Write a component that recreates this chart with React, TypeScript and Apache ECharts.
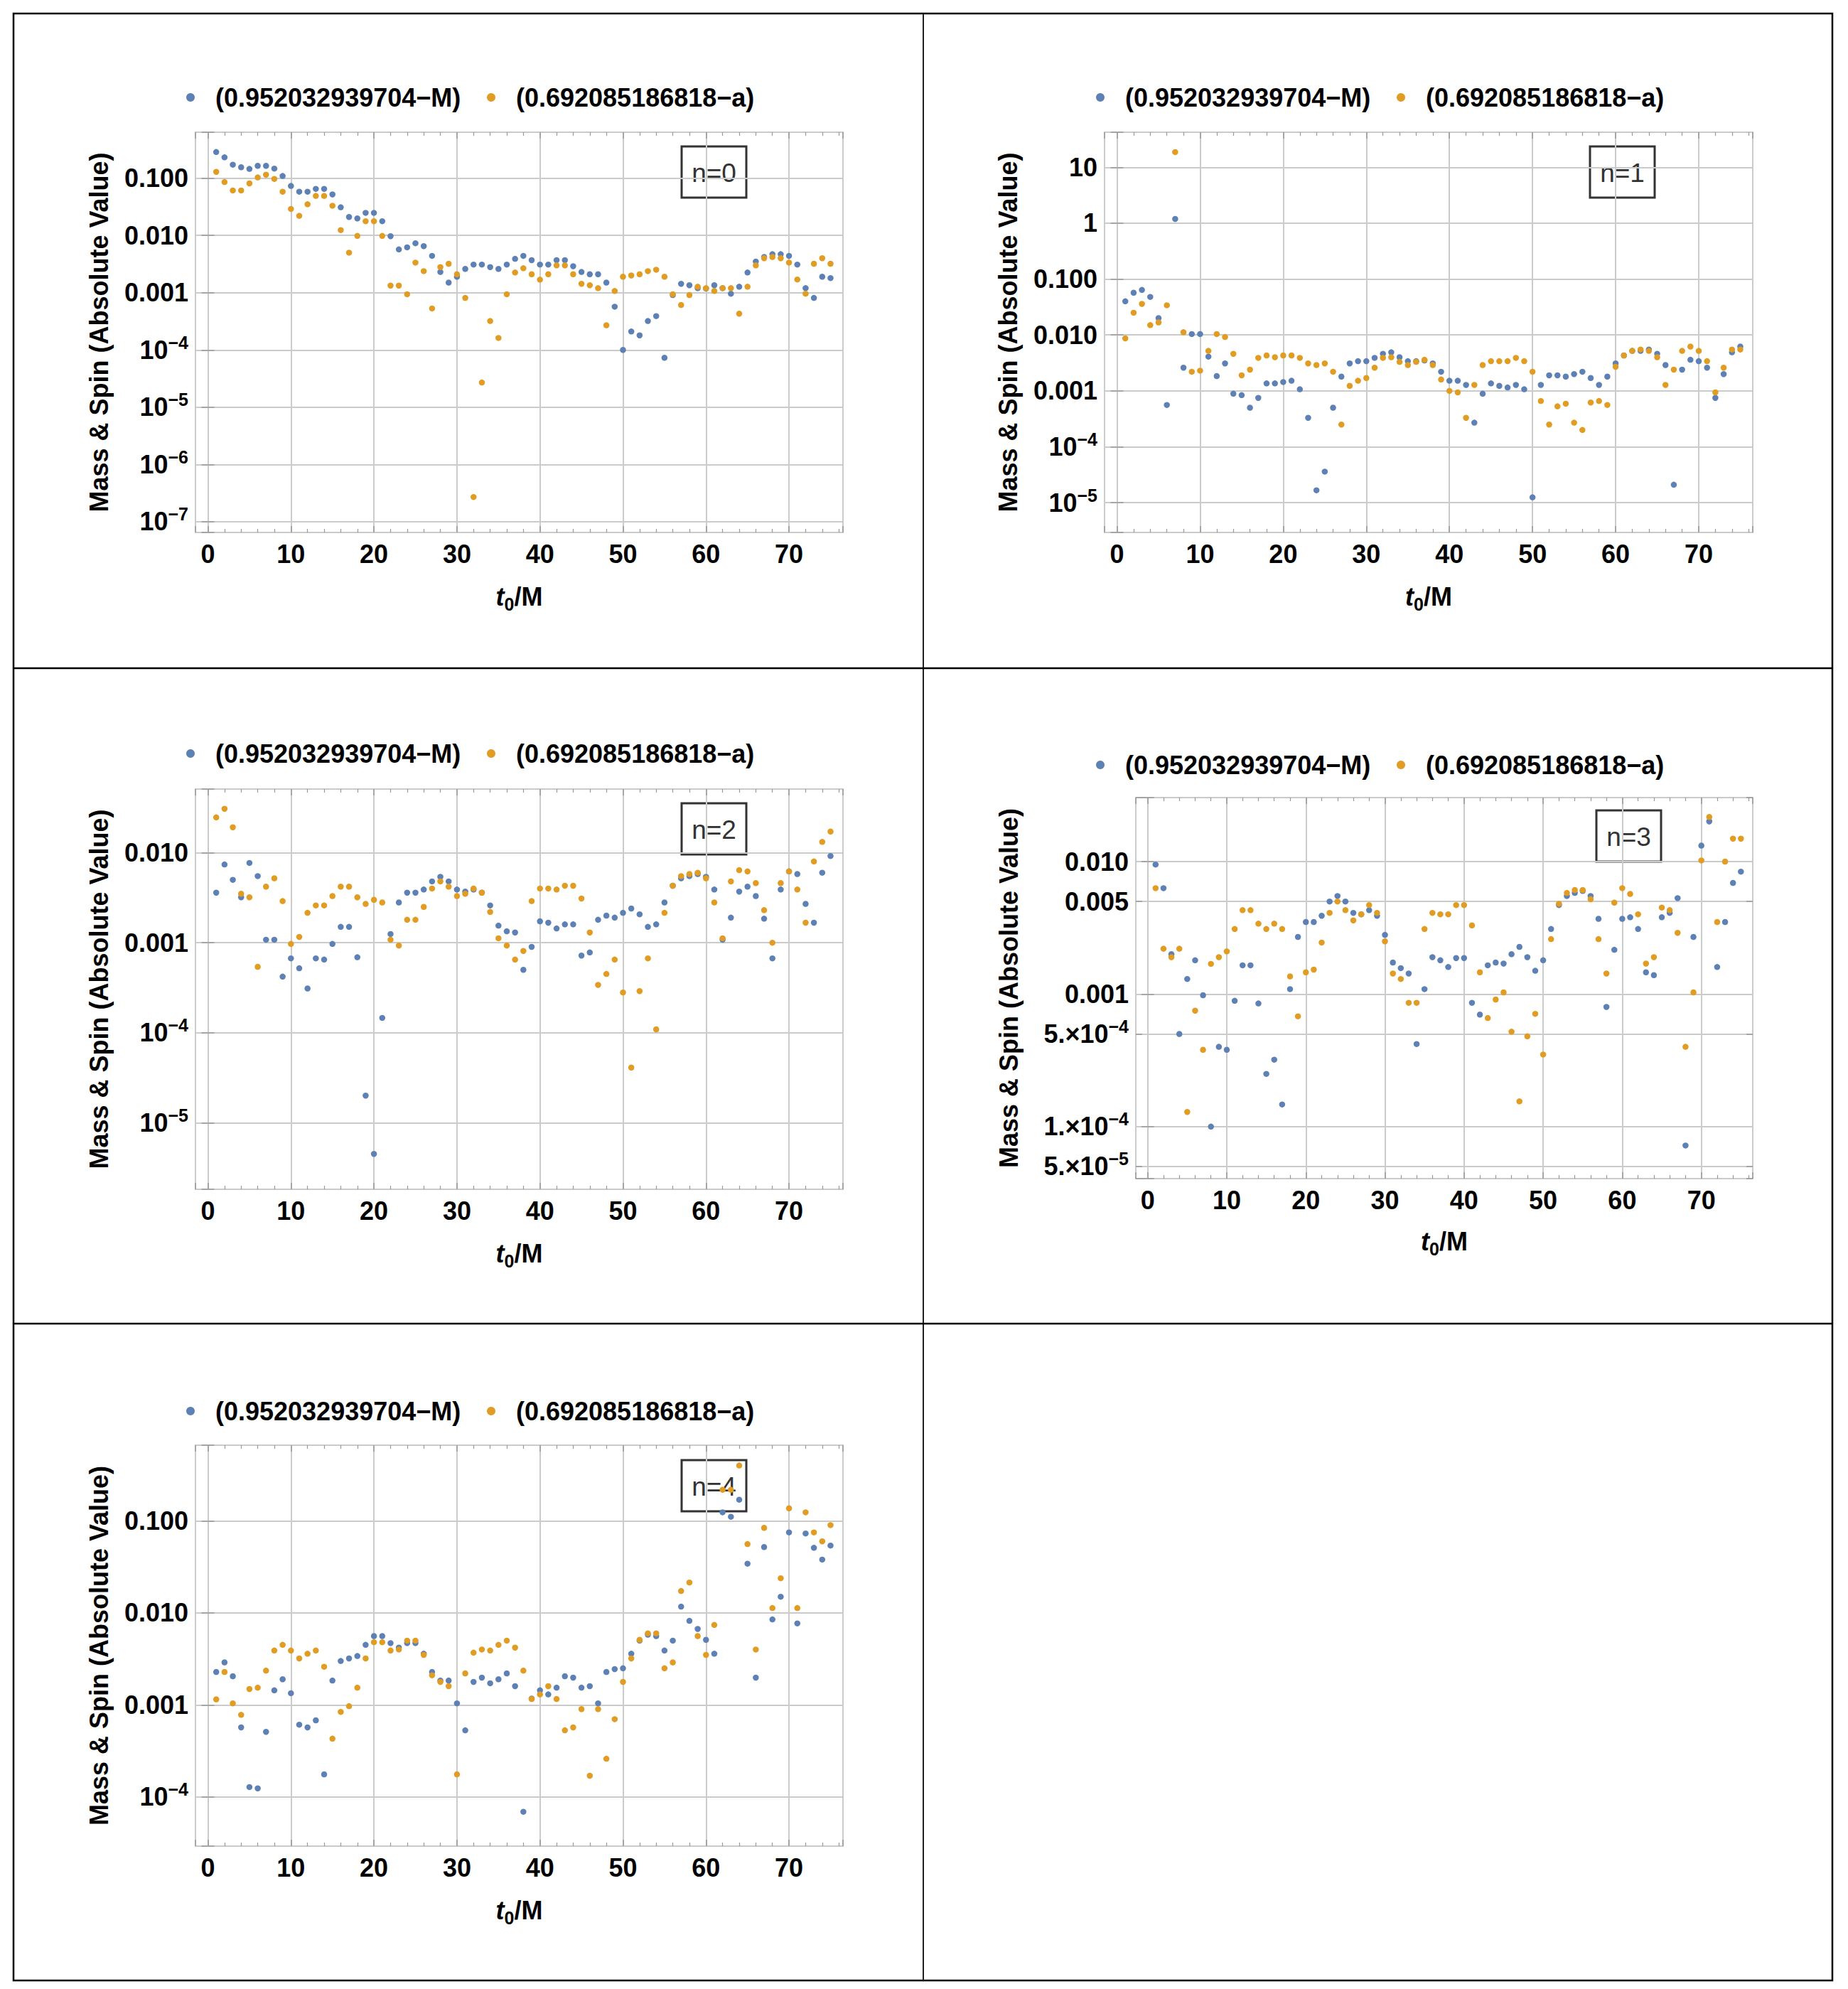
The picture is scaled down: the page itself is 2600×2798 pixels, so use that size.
import React, { useEffect, useRef } from "react";
import * as echarts from "echarts";

// start time t0/M of each fit
const t0 = [
  1, 2, 3, 4, 5, 6, 7, 8, 9, 10, 11, 12, 13, 14, 15, 16, 17, 18, 19, 20,
  21, 22, 23, 24, 25, 26, 27, 28, 29, 30, 31, 32, 33, 34, 35, 36, 37, 38, 39, 40,
  41, 42, 43, 44, 45, 46, 47, 48, 49, 50, 51, 52, 53, 54, 55, 56, 57, 58, 59, 60,
  61, 62, 63, 64, 65, 66, 67, 68, 69, 70, 71, 72, 73, 74, 75,
];

// |0.952032939704 - M| for n = 0..4
const massN0 = [
  0.286, 0.231, 0.172, 0.155, 0.145, 0.164, 0.164, 0.147, 0.109, 0.073,
  0.058, 0.058, 0.065, 0.065, 0.052, 0.031, 0.021, 0.0198, 0.0248, 0.0248,
  0.0177, 0.0097, 0.0057, 0.0062, 0.0073, 0.0065, 0.0044, 0.0023, 0.0015, 0.0019,
  0.0026, 0.0031, 0.0031, 0.0028, 0.0026, 0.0031, 0.0039, 0.0044, 0.0037, 0.0031,
  0.0031, 0.0037, 0.0037, 0.0029, 0.0023, 0.0021, 0.0021, 0.0015, 0.00057, 0.0001,
  0.00021, 0.00018, 0.00032, 0.00039, 0.000073, 0.00091, 0.00143, 0.00135, 0.0012, 0.00118,
  0.00135, 0.0012, 0.00096, 0.00127, 0.00225, 0.0035, 0.0042, 0.0047, 0.0047, 0.0044,
  0.0031, 0.0012, 0.00081, 0.0019, 0.0018,
];
const massN1 = [
  0.04, 0.057, 0.064, 0.048, 0.02, 0.00056, 1.19, 0.0026, 0.0104, 0.0104,
  0.0041, 0.00184, 0.0031, 0.00089, 0.00084, 0.0005, 0.00075, 0.00136, 0.00136, 0.00144,
  0.00152, 0.00107, 0.00033, 0.0000167, 0.000036, 0.0005, 0.0018, 0.0031, 0.0034, 0.0034,
  0.0039, 0.0046, 0.0049, 0.004, 0.0034, 0.0034, 0.0035, 0.0031, 0.0022, 0.00152,
  0.00152, 0.00128, 0.00027, 0.00089, 0.00136, 0.00123, 0.00115, 0.00128, 0.00107, 0.0000125,
  0.00128, 0.0019, 0.0019, 0.0018, 0.002, 0.0022, 0.0017, 0.00128, 0.0018, 0.0031,
  0.0043, 0.0052, 0.0052, 0.0055, 0.0046, 0.0029, 0.000021, 0.0024, 0.0036, 0.0034,
  0.0026, 0.00075, 0.002, 0.0049, 0.0062,
];
const massN2 = [
  0.0036, 0.0074, 0.005, 0.0032, 0.0077, 0.0055, 0.00108, 0.00108, 0.00042, 0.00067,
  0.00052, 0.00031, 0.00067, 0.00065, 0.00097, 0.0015, 0.0015, 0.00069, 0.00002, 0.0000045,
  0.000146, 0.00125, 0.0028, 0.0036, 0.0036, 0.0039, 0.0048, 0.0054, 0.0048, 0.0039,
  0.0037, 0.0039, 0.0036, 0.0026, 0.00155, 0.00134, 0.0013, 0.0005, 0.0009, 0.00173,
  0.00167, 0.00144, 0.0016, 0.0016, 0.00072, 0.00078, 0.0018, 0.002, 0.0019, 0.00215,
  0.0024, 0.00207, 0.0015, 0.0016, 0.0028, 0.0043, 0.0052, 0.0055, 0.0058, 0.0054,
  0.0039, 0.00108, 0.0019, 0.0037, 0.0042, 0.0033, 0.00185, 0.00067, 0.0039, 0.0062,
  0.0058, 0.0027, 0.00167, 0.006, 0.0092,
];
const massN3 = [
  0.0095, 0.0063, 0.002, 0.0005, 0.0013, 0.0018, 0.00098, 0.0001, 0.0004, 0.00038,
  0.00089, 0.00165, 0.00165, 0.00085, 0.00025, 0.00032, 0.000147, 0.00109, 0.0027, 0.0035,
  0.0035, 0.0039, 0.005, 0.0055, 0.005, 0.0041, 0.004, 0.0043, 0.0039, 0.0028,
  0.00173, 0.00157, 0.00143, 0.00042, 0.00109, 0.0019, 0.0018, 0.0016, 0.00187, 0.00187,
  0.00086, 0.0007, 0.00165, 0.00173, 0.0017, 0.002, 0.00227, 0.0019, 0.0015, 0.0018,
  0.0031, 0.0047, 0.0055, 0.0058, 0.006, 0.0055, 0.0037, 0.0008, 0.00216, 0.0037,
  0.0038, 0.0031, 0.00146, 0.00139, 0.0038, 0.0041, 0.0053, 0.000072, 0.0027, 0.0132,
  0.0201, 0.0016, 0.0035, 0.0069, 0.0084,
];
const massN4 = [
  0.00228, 0.0029, 0.00205, 0.00057, 0.000128, 0.000124, 0.00051, 0.00144, 0.0019, 0.00134,
  0.00061, 0.00057, 0.00068, 0.000176, 0.00184, 0.003, 0.0032, 0.0034, 0.0045, 0.0056,
  0.0056, 0.0047, 0.0042, 0.0047, 0.0047, 0.0036, 0.00228, 0.00184, 0.00184, 0.00104,
  0.00053, 0.00178, 0.00198, 0.00172, 0.0019, 0.0022, 0.0016, 0.000069, 0.00117, 0.00144,
  0.0013, 0.00154, 0.00205, 0.00198, 0.00154, 0.0016, 0.00104, 0.00228, 0.00245, 0.0025,
  0.0036, 0.005, 0.0058, 0.0056, 0.0039, 0.005, 0.0117, 0.0082, 0.0067, 0.0051,
  0.0036, 0.124, 0.111, 0.17, 0.0343, 0.00198, 0.052, 0.0085, 0.015, 0.075,
  0.0077, 0.073, 0.051, 0.038, 0.054,
];

// |0.692085186818 - a| for n = 0..4
const spinN0 = [
  0.129, 0.0855, 0.061, 0.061, 0.081, 0.103, 0.115, 0.097, 0.058, 0.029,
  0.022, 0.035, 0.049, 0.049, 0.033, 0.0124, 0.005, 0.0098, 0.0177, 0.0177,
  0.0098, 0.00133, 0.00133, 0.00094, 0.00335, 0.00238, 0.00053, 0.0028, 0.0032, 0.0021,
  0.00081, 0.00000027, 0.000027, 0.00032, 0.000162, 0.00094, 0.00225, 0.00267, 0.0021, 0.00169,
  0.0021, 0.003, 0.003, 0.0021, 0.00143, 0.00135, 0.0012, 0.00027, 0.00107, 0.0019,
  0.002, 0.0021, 0.00238, 0.00252, 0.0019, 0.00094, 0.00061, 0.00091, 0.00127, 0.0012,
  0.00107, 0.0012, 0.0012, 0.00043, 0.00127, 0.003, 0.004, 0.0042, 0.004, 0.00335,
  0.0017, 0.00096, 0.0032, 0.004, 0.0032,
];
const spinN1 = [
  0.0087, 0.025, 0.036, 0.015, 0.0168, 0.034, 18.7, 0.0112, 0.0022, 0.0023,
  0.0052, 0.0104, 0.0092, 0.0046, 0.0019, 0.0024, 0.0039, 0.0043, 0.004, 0.0043,
  0.0043, 0.0039, 0.0031, 0.0029, 0.0031, 0.0022, 0.00025, 0.00123, 0.00152, 0.0017,
  0.0026, 0.0039, 0.004, 0.0033, 0.0029, 0.0033, 0.0036, 0.0029, 0.0016, 0.001,
  0.00094, 0.00033, 0.00128, 0.0029, 0.0034, 0.0034, 0.0034, 0.0039, 0.0034, 0.0022,
  0.00066, 0.00025, 0.00053, 0.00059, 0.00027, 0.0002, 0.00062, 0.00066, 0.00056, 0.0027,
  0.0043, 0.0052, 0.0055, 0.0052, 0.004, 0.00128, 0.0024, 0.0052, 0.0062, 0.0052,
  0.0034, 0.00094, 0.0026, 0.0055, 0.0055,
];
const spinN2 = [
  0.0247, 0.0308, 0.0192, 0.0035, 0.0032, 0.00054, 0.0042, 0.0052, 0.0029, 0.00097,
  0.00116, 0.00215, 0.0026, 0.0026, 0.0033, 0.0042, 0.0042, 0.0032, 0.0027, 0.003,
  0.0028, 0.00108, 0.00093, 0.0018, 0.0018, 0.0025, 0.004, 0.0048, 0.0042, 0.0033,
  0.0035, 0.004, 0.0036, 0.0022, 0.00112, 0.00093, 0.00065, 0.00081, 0.0029, 0.004,
  0.004, 0.0039, 0.0043, 0.0043, 0.0031, 0.0013, 0.00034, 0.00045, 0.00065, 0.00028,
  0.000041, 0.00029, 0.00067, 0.000109, 0.00215, 0.0043, 0.0055, 0.0058, 0.006, 0.0052,
  0.0028, 0.00112, 0.0048, 0.0064, 0.0062, 0.0046, 0.0023, 0.001, 0.0046, 0.0062,
  0.0039, 0.00167, 0.008, 0.0132, 0.0172,
];
const spinN3 = [
  0.0063, 0.0022, 0.0019, 0.0022, 0.000129, 0.00075, 0.00038, 0.00169, 0.0019, 0.0021,
  0.0031, 0.0043, 0.0043, 0.0034, 0.0031, 0.0034, 0.0031, 0.00136, 0.00068, 0.00146,
  0.00153, 0.00245, 0.0041, 0.005, 0.0043, 0.0036, 0.004, 0.0047, 0.0041, 0.0025,
  0.00143, 0.0013, 0.00086, 0.00086, 0.0031, 0.0041, 0.004, 0.004, 0.0047, 0.0047,
  0.0033, 0.00146, 0.00066, 0.00091, 0.00103, 0.00052, 0.000155, 0.00048, 0.00071, 0.00035,
  0.0026, 0.0048, 0.0058, 0.0061, 0.0061, 0.0052, 0.0026, 0.00143, 0.0049, 0.0063,
  0.0057, 0.004, 0.0017, 0.0019, 0.0045, 0.0043, 0.0029, 0.0004, 0.00103, 0.0102,
  0.0217, 0.0035, 0.01, 0.0149, 0.0149,
];
const spinN4 = [
  0.00115, 0.00228, 0.00104, 0.00078, 0.00149, 0.00154, 0.00236, 0.0039, 0.0045, 0.0039,
  0.0032, 0.0036, 0.0039, 0.0026, 0.00043, 0.00084, 0.00097, 0.00154, 0.0032, 0.0048,
  0.0048, 0.0039, 0.004, 0.005, 0.005, 0.0035, 0.0021, 0.00178, 0.0016, 0.000176,
  0.0022, 0.0037, 0.004, 0.0039, 0.0045, 0.005, 0.0042, 0.00236, 0.00116, 0.0013,
  0.0016, 0.00116, 0.00053, 0.00057, 0.0009, 0.00017, 0.0009, 0.00026, 0.0007, 0.00178,
  0.0032, 0.0051, 0.006, 0.006, 0.0025, 0.0029, 0.0173, 0.0214, 0.0056, 0.0035,
  0.0074, 0.218, 0.218, 0.4, 0.056, 0.004, 0.084, 0.0113, 0.0238, 0.137,
  0.0113, 0.124, 0.075, 0.06, 0.09,
];

const massSeries = [massN0, massN1, massN2, massN3, massN4];
const spinSeries = [spinN0, spinN1, spinN2, spinN3, spinN4];
const panelLabels = ["n=0", "n=1", "n=2", "n=3", "n=4"];
const massName = "(0.952032939704\u2212M)";
const spinName = "(0.692085186818\u2212a)";

// axis ranges
const xRange = [-1.5, 76.5];
const yRanges = [
  [6.5e-8, 0.634],
  [2.94e-6, 42.3],
  [1.82e-6, 0.051],
  [4.05e-5, 0.0304],
  [2.92e-5, 0.665],
];
// the n=3 panel also marks 5 x 10^k
const n3HalfMantissa = 5;

// pixel layout of each panel: [left, top, width, height]
const panelLayout = [
  { grid: [275, 186, 911, 563], legendY: 137, col: 0, box: [959, 206], yGap: 118, xGap: 67 },
  { grid: [1554, 186, 912, 563], legendY: 137, col: 1, box: [2237, 206], yGap: 118, xGap: 67 },
  { grid: [275, 1110, 911, 563], legendY: 1060, col: 0, box: [959, 1130], yGap: 118, xGap: 67 },
  { grid: [1598, 1122, 868, 536], legendY: 1076, col: 1, box: [2246, 1140], yGap: 161, xGap: 65 },
  { grid: [275, 2033, 911, 564], legendY: 1985, col: 0, box: [959, 2054], yGap: 118, xGap: 67 },
];
// legend marker centre and text start, per column
const legendMarkerX = [
  [268, 691],
  [1548, 1971],
];
const legendTextX = [
  [303, 726],
  [1583, 2006],
];

const FONT = "'Liberation Sans', Arial, Helvetica, sans-serif";
const BLUE = "#5E81B5";
const ORANGE = "#E19C24";
const GRID_LINE = "#cbcbcb";
const FRAME = "#999999";
const FS = 36;

const richLabel = {
  base: { fontFamily: FONT, fontSize: FS, fontWeight: "bold", color: "#000", lineHeight: 46, verticalAlign: "middle" },
  sup: { fontFamily: FONT, fontSize: 25, fontWeight: "bold", color: "#000", lineHeight: 25, verticalAlign: "top" },
};

const decadeLabel = (v: number, mantissa: string) => {
  const lg = Math.log10(v);
  const e = Math.round(lg);
  if (Math.abs(lg - e) > 0.01) return "";
  if (e >= 0) return `{base|${Math.pow(10, e)}}`;
  if (e >= -3) return `{base|${Math.pow(10, e).toFixed(3)}}`;
  return `{base|${mantissa}10}{sup|\u2212${-e}}`;
};

const halfLabel = (v: number) => {
  const lg = Math.log10(v);
  const e = Math.round(lg);
  if (Math.abs(lg - e) > 0.01) return "";
  if (e >= -3) return `{base|${(n3HalfMantissa * Math.pow(10, e)).toFixed(3)}}`;
  return `{base|${n3HalfMantissa}.\u00d710}{sup|\u2212${-e}}`;
};

const buildOption = (): echarts.EChartsOption => {
  const grid: any[] = [];
  const xAxis: any[] = [];
  const yAxis: any[] = [];
  const series: any[] = [];
  const elements: any[] = [];

  const tick = { show: true, inside: true, length: 9, lineStyle: { color: FRAME, width: 1.5 } };
  const labelText = { fontFamily: FONT, fontSize: FS, fontWeight: "bold", color: "#000" };

  panelLayout.forEach((p, i) => {
    const [left, top, width, height] = p.grid;
    grid.push({
      left, top, width, height,
      containLabel: false,
      outerBoundsMode: "none",
      show: true,
      borderColor: FRAME,
      borderWidth: 1.5,
      backgroundColor: "transparent",
    });

    const xCommon = {
      type: "value",
      gridIndex: i,
      min: xRange[0],
      max: xRange[1],
      minInterval: 10,
      maxInterval: 10,
      axisLine: { show: false },
      axisTick: tick,
      minorTick: { show: true, splitNumber: 5, length: 5, lineStyle: { color: FRAME, width: 1.2 } },
    };
    const xIndex = xAxis.length;
    xAxis.push({
      ...xCommon,
      position: "bottom",
      splitLine: { show: true, lineStyle: { color: GRID_LINE, width: 2 } },
      axisLabel: {
        show: true,
        margin: 12,
        ...labelText,
        formatter: (v: number) => (Math.abs(v % 10) < 1e-9 ? String(v) : ""),
      },
      name: "{t|t}{z|0}{m|/M}",
      nameLocation: "middle",
      nameGap: p.xGap,
      nameTextStyle: {
        rich: {
          t: { ...labelText, fontStyle: "italic", lineHeight: 46, verticalAlign: "middle" },
          z: { ...labelText, fontSize: 25, lineHeight: 25, verticalAlign: "bottom" },
          m: { ...labelText, lineHeight: 46, verticalAlign: "middle" },
        },
      },
    });
    xAxis.push({ ...xCommon, position: "top", splitLine: { show: false }, axisLabel: { show: false } });

    const yCommon = {
      type: "log",
      logBase: 10,
      gridIndex: i,
      min: yRanges[i][0],
      max: yRanges[i][1],
      axisLine: { show: false },
      axisTick: tick,
    };
    const yIndex = yAxis.length;
    yAxis.push({
      ...yCommon,
      position: "left",
      splitLine: { show: true, lineStyle: { color: GRID_LINE, width: 2 } },
      axisLabel: {
        show: true,
        margin: 10,
        ...labelText,
        formatter: (v: number) => decadeLabel(v, i === 3 ? "1.\u00d7" : ""),
        rich: richLabel,
      },
      name: "Mass & Spin (Absolute Value)",
      nameLocation: "middle",
      nameRotate: 90,
      nameGap: p.yGap,
      nameTextStyle: labelText,
    });
    yAxis.push({ ...yCommon, position: "right", splitLine: { show: false }, axisLabel: { show: false } });

    if (i === 3) {
      // second log scale, shifted by the mantissa, gives the 5 x 10^k lines
      const halfCommon = {
        ...yCommon,
        min: yRanges[i][0] / n3HalfMantissa,
        max: yRanges[i][1] / n3HalfMantissa,
      };
      yAxis.push({
        ...halfCommon,
        position: "left",
        splitLine: { show: true, lineStyle: { color: GRID_LINE, width: 2 } },
        axisLabel: { show: true, margin: 10, ...labelText, formatter: halfLabel, rich: richLabel },
      });
      yAxis.push({ ...halfCommon, position: "right", splitLine: { show: false }, axisLabel: { show: false } });
    }

    series.push({
      type: "scatter",
      name: massName,
      xAxisIndex: xIndex,
      yAxisIndex: yIndex,
      data: t0.map((t, k) => [t, massSeries[i][k]]),
      symbol: "circle",
      symbolSize: 8.5,
      itemStyle: { color: BLUE, opacity: 1 },
      silent: true,
      z: 3,
    });
    series.push({
      type: "scatter",
      name: spinName,
      xAxisIndex: xIndex,
      yAxisIndex: yIndex,
      data: t0.map((t, k) => [t, spinSeries[i][k]]),
      symbol: "circle",
      symbolSize: 8.5,
      itemStyle: { color: ORANGE, opacity: 1 },
      silent: true,
      z: 4,
    });

    // legend row
    [
      { name: massName, color: BLUE },
      { name: spinName, color: ORANGE },
    ].forEach((item, k) => {
      elements.push({
        type: "circle",
        silent: true,
        shape: { cx: legendMarkerX[p.col][k], cy: p.legendY, r: 6 },
        style: { fill: item.color },
      });
      elements.push({
        type: "text",
        silent: true,
        x: legendTextX[p.col][k],
        y: p.legendY,
        style: {
          text: item.name,
          fontFamily: FONT,
          fontSize: FS,
          fontWeight: "bold",
          fill: "#000",
          align: "left",
          verticalAlign: "middle",
        },
      });
    });

    // framed "n=k" label
    const [bx, by] = p.box;
    elements.push({
      type: "rect",
      silent: true,
      shape: { x: bx, y: by, width: 91, height: 72 },
      style: { fill: "none", stroke: "#333", lineWidth: 3 },
    });
    elements.push({
      type: "text",
      silent: true,
      x: bx + 45.5,
      y: by + 37,
      style: {
        text: panelLabels[i],
        fontFamily: FONT,
        fontSize: 37,
        fill: "#333",
        align: "center",
        verticalAlign: "middle",
      },
    });
  });

  // table borders
  elements.push({
    type: "rect",
    silent: true,
    shape: { x: 19, y: 19, width: 2559, height: 2767 },
    style: { fill: "none", stroke: "#000", lineWidth: 2.5 },
  });
  elements.push({
    type: "line",
    silent: true,
    shape: { x1: 1299, y1: 19, x2: 1299, y2: 2786 },
    style: { stroke: "#222", lineWidth: 2 },
  });
  [940, 1862].forEach((y) =>
    elements.push({
      type: "line",
      silent: true,
      shape: { x1: 19, y1: y, x2: 2578, y2: y },
      style: { stroke: "#000", lineWidth: 2.5 },
    })
  );

  return {
    animation: false,
    backgroundColor: "#ffffff",
    textStyle: { fontFamily: FONT },
    grid,
    xAxis,
    yAxis,
    series,
    graphic: { elements },
  };
};

const App: React.FC = () => {
  const chartRef = useRef<HTMLDivElement>(null);

  useEffect(() => {
    if (!chartRef.current) return;
    const chart = echarts.init(chartRef.current, null, { renderer: "svg" });
    chart.setOption(buildOption());
    return () => {
      chart.dispose();
    };
  }, []);

  return (
    <div
      ref={chartRef}
      style={{ position: "absolute", left: 0, top: 0, width: "2600px", height: "2798px", background: "#fff" }}
    />
  );
};

export default App;
